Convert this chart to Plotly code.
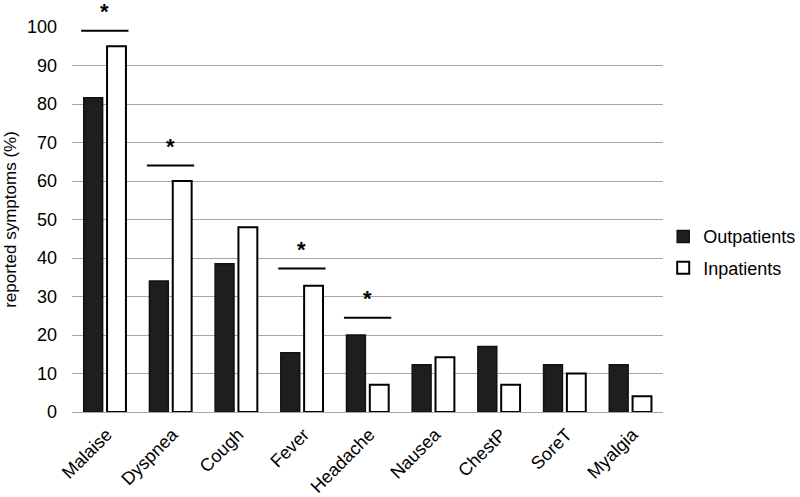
import plotly.graph_objects as go

categories = ['Malaise', 'Dyspnea', 'Cough', 'Fever', 'Headache', 'Nausea', 'ChestP', 'SoreT', 'Myalgia']
outpatients = [81.6, 34.0, 38.5, 15.4, 20.0, 12.3, 17.0, 12.3, 12.3]
inpatients = [95.0, 60.0, 48.0, 32.8, 7.1, 14.2, 7.1, 10.0, 4.1]

# significant differences: category index and bracket height
sig_idx = [0, 1, 3, 4]
sig_level = [99, 64, 37.3, 24.5]

font = 'Liberation Sans, Arial, sans-serif'

fig = go.Figure()
fig.add_trace(go.Bar(x=categories, y=outpatients, name='Outpatients', legendgroup='out',
                     marker=dict(color='#1e1e1e', line=dict(color='#111111', width=1.5))))
fig.add_trace(go.Bar(x=categories, y=inpatients, name='Inpatients', legendgroup='in',
                     marker=dict(color='white', line=dict(color='black', width=2))))

for i, h in zip(sig_idx, sig_level):
    fig.add_shape(type='line', xref='x', yref='y', x0=i - 0.36, x1=i + 0.36, y0=h, y1=h,
                  line=dict(color='black', width=2), opacity=1, layer='above')
    fig.add_annotation(x=categories[i], y=h, yshift=19, text='<b>*</b>', showarrow=False,
                       font=dict(size=22, color='black', family=font))

fig.update_layout(
    width=800, height=497,
    plot_bgcolor='white', paper_bgcolor='white',
    barmode='group', bargap=0.29, bargroupgap=0.19,
    margin=dict(l=72, r=133, t=27, b=85),
    font=dict(family=font, size=17, color='black'),
    showlegend=True,
    legend=dict(xref='container', yref='container', x=0.829, y=0.561,
                xanchor='left', yanchor='top', bgcolor='rgba(0,0,0,0)',
                font=dict(size=18), tracegroupgap=5, itemwidth=30),
    xaxis=dict(showline=True, linecolor='#a6a6a6', linewidth=1, ticks='', tickangle=-45,
               tickfont=dict(size=18), automargin=False,
               ticklabelshift=2, ticklabelstandoff=4),
    yaxis=dict(range=[0, 100], dtick=10, showline=False, ticks='', ticklabelstandoff=14,
               showgrid=True, gridcolor='#a6a6a6', gridwidth=1, zeroline=False,
               automargin=False,
               title=dict(text='reported symptoms (%)', font=dict(size=17), standoff=6),
               tickfont=dict(size=18)),
)

fig.write_html('out.html', config={'displayModeBar': False},
               post_script="document.body.style.margin='0';")
